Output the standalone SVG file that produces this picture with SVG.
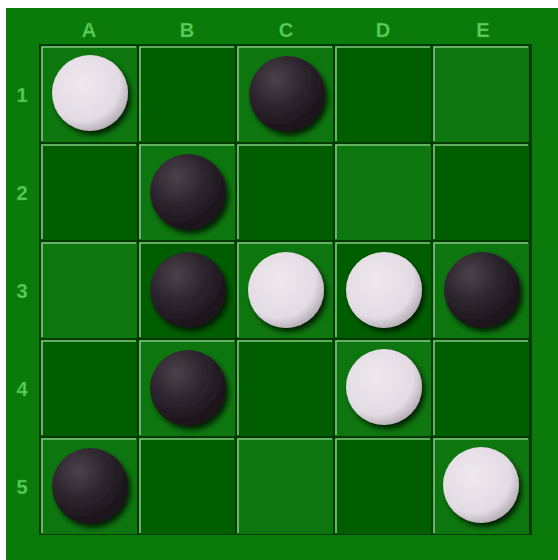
<svg xmlns="http://www.w3.org/2000/svg" width="558" height="560" viewBox="0 0 558 560">
<defs>
<style>
.lbl{font-family:"Liberation Sans",Arial,sans-serif;font-weight:bold;font-size:20px;fill:#5cd25c;stroke:#2a9a2a;stroke-width:0.6;text-anchor:middle;dominant-baseline:central}
.cl{fill:#0e760f}
.cd{fill:#005e00}
.hl{fill:none;stroke:#82c682;stroke-width:1.6}
</style>
<radialGradient id="gw" cx="0.4" cy="0.38" r="0.65">
<stop offset="0" stop-color="#efe9ef"/>
<stop offset="0.75" stop-color="#e3dbe3"/>
<stop offset="1" stop-color="#b5aeb5"/>
</radialGradient>
<radialGradient id="gb" cx="0.35" cy="0.3" r="0.7">
<stop offset="0" stop-color="#4a424a"/>
<stop offset="0.5" stop-color="#2e262e"/>
<stop offset="1" stop-color="#1a141a"/>
</radialGradient>
<filter id="ds" x="-30%" y="-30%" width="160%" height="160%">
<feGaussianBlur in="SourceAlpha" stdDeviation="2.5"/>
<feOffset dx="3" dy="4" result="b"/>
<feFlood flood-color="#001a00" flood-opacity="0.9"/>
<feComposite in2="b" operator="in"/>
<feMerge><feMergeNode/><feMergeNode in="SourceGraphic"/></feMerge>
</filter>
</defs>
<rect x="0" y="0" width="558" height="560" fill="#ffffff"/>
<rect x="6" y="8" width="552" height="552" fill="#0a7a0a"/>
<rect x="39" y="44" width="493" height="491" fill="#013a01"/>
<g id="labels">
<text class="lbl" x="89" y="30">A</text>
<text class="lbl" x="187" y="30">B</text>
<text class="lbl" x="286" y="30">C</text>
<text class="lbl" x="383" y="30">D</text>
<text class="lbl" x="483" y="30">E</text>
<text class="lbl" x="22" y="95">1</text>
<text class="lbl" x="22" y="193">2</text>
<text class="lbl" x="22" y="291">3</text>
<text class="lbl" x="22" y="389">4</text>
<text class="lbl" x="22" y="487">5</text>
</g>
<g id="board">
<g id="r1">
<rect class="cl" x="41" y="46" width="96" height="96"/>
<rect class="cd" x="139" y="46" width="96" height="96"/>
<rect class="cl" x="237" y="46" width="96" height="96"/>
<rect class="cd" x="335" y="46" width="96" height="96"/>
<rect class="cl" x="433" y="46" width="96" height="96"/>
</g>
<g id="r2">
<rect class="cd" x="41" y="144" width="96" height="96"/>
<rect class="cl" x="139" y="144" width="96" height="96"/>
<rect class="cd" x="237" y="144" width="96" height="96"/>
<rect class="cl" x="335" y="144" width="96" height="96"/>
<rect class="cd" x="433" y="144" width="96" height="96"/>
</g>
<g id="r3">
<rect class="cl" x="41" y="242" width="96" height="96"/>
<rect class="cd" x="139" y="242" width="96" height="96"/>
<rect class="cl" x="237" y="242" width="96" height="96"/>
<rect class="cd" x="335" y="242" width="96" height="96"/>
<rect class="cl" x="433" y="242" width="96" height="96"/>
</g>
<g id="r4">
<rect class="cd" x="41" y="340" width="96" height="96"/>
<rect class="cl" x="139" y="340" width="96" height="96"/>
<rect class="cd" x="237" y="340" width="96" height="96"/>
<rect class="cl" x="335" y="340" width="96" height="96"/>
<rect class="cd" x="433" y="340" width="96" height="96"/>
</g>
<g id="r5">
<rect class="cl" x="41" y="438" width="96" height="96"/>
<rect class="cd" x="139" y="438" width="96" height="96"/>
<rect class="cl" x="237" y="438" width="96" height="96"/>
<rect class="cd" x="335" y="438" width="96" height="96"/>
<rect class="cl" x="433" y="438" width="96" height="96"/>
</g>
<g id="bevels">
<path class="hl" d="M42 141V47H136M140 141V47H234M238 141V47H332M336 141V47H430M434 141V47H528
M42 239V145H136M140 239V145H234M238 239V145H332M336 239V145H430M434 239V145H528
M42 337V243H136M140 337V243H234M238 337V243H332M336 337V243H430M434 337V243H528
M42 435V341H136M140 435V341H234M238 435V341H332M336 435V341H430M434 435V341H528
M42 533V439H136M140 533V439H234M238 533V439H332M336 533V439H430M434 533V439H528"/>
</g>
</g>
<g id="pieces">
<circle id="A1" cx="90" cy="93" r="38" fill="url(#gw)" filter="url(#ds)"/>
<circle id="C1" cx="287" cy="94" r="38" fill="url(#gb)" filter="url(#ds)"/>
<circle id="B2" cx="188" cy="192" r="38" fill="url(#gb)" filter="url(#ds)"/>
<circle id="B3" cx="188" cy="290" r="38" fill="url(#gb)" filter="url(#ds)"/>
<circle id="C3" cx="286" cy="290" r="38" fill="url(#gw)" filter="url(#ds)"/>
<circle id="D3" cx="384" cy="290" r="38" fill="url(#gw)" filter="url(#ds)"/>
<circle id="E3" cx="482" cy="290" r="38" fill="url(#gb)" filter="url(#ds)"/>
<circle id="B4" cx="188" cy="388" r="38" fill="url(#gb)" filter="url(#ds)"/>
<circle id="D4" cx="384" cy="387" r="38" fill="url(#gw)" filter="url(#ds)"/>
<circle id="A5" cx="90" cy="486" r="38" fill="url(#gb)" filter="url(#ds)"/>
<circle id="E5" cx="481" cy="485" r="38" fill="url(#gw)" filter="url(#ds)"/>
</g>
</svg>
